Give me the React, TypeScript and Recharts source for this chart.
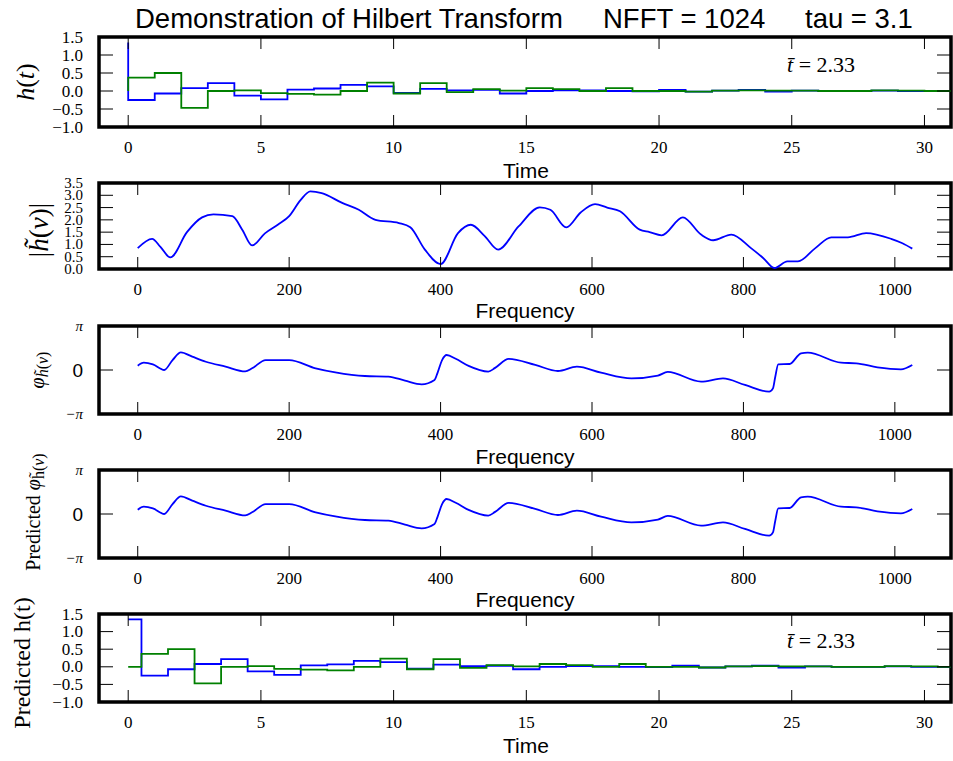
import { LineChart, Line, XAxis, YAxis, ReferenceArea } from 'recharts';

// time-domain impulse response (blue = real part, green = imaginary part)
const T = [0, 1, 2, 3, 4, 5, 6, 7, 8, 9, 10, 11, 12, 13, 14, 15, 16, 17, 18, 19, 20, 21, 22, 23, 24, 25, 26, 27, 28, 29, 30, 31];
const H_BLUE = [1.35, -0.25, -0.07, 0.08, 0.22, -0.13, -0.23, 0.04, 0.07, 0.17, 0.13, -0.05, 0.06, 0.02, 0.03, -0.07, 0.0, 0.02, 0.02, 0.0, -0.01, 0.03, -0.02, 0.01, 0.03, -0.02, 0.01, 0.0, 0.0, 0.01, 0.0, 0.0];
const H_GREEN = [0.0, 0.37, 0.5, -0.47, 0.0, 0.02, -0.06, -0.08, -0.1, 0.0, 0.23, -0.07, 0.22, -0.03, 0.05, 0.01, 0.08, 0.05, 0.0, 0.08, 0.0, 0.0, -0.02, 0.01, 0.02, 0.01, 0.01, 0.0, 0.0, 0.02, 0.01, 0.0];

// |h~(nu)|
const NU_MAG = [0, 19, 30, 43, 65, 85, 100, 125, 138, 151, 168, 185, 200, 215, 228, 243, 270, 292, 314, 345, 360, 379, 400, 423, 440, 458, 476, 503, 531, 545, 566, 585, 604, 620, 637, 663, 676, 692, 720, 744, 760, 784, 810, 826, 841, 858, 872, 895, 916, 938, 962, 995, 1010, 1023];
const MAG = [0.85, 1.23, 0.9, 0.47, 1.5, 2.1, 2.22, 2.15, 1.6, 0.96, 1.45, 1.8, 2.15, 2.8, 3.16, 3.09, 2.69, 2.41, 2.0, 1.87, 1.7, 0.8, 0.2, 1.46, 1.8, 1.35, 0.79, 1.73, 2.51, 2.41, 1.69, 2.3, 2.64, 2.5, 2.35, 1.6, 1.5, 1.37, 2.1, 1.4, 1.17, 1.4, 0.85, 0.45, 0.04, 0.31, 0.31, 0.85, 1.29, 1.29, 1.46, 1.23, 1.05, 0.83];

// phase of h~(nu)
const NU_PHASE = [0, 8, 20, 35, 46, 57, 72, 90, 116, 142, 151, 169, 200, 235, 261, 300, 331, 353, 375, 392, 396, 402, 408, 420, 437, 463, 472, 490, 525, 555, 580, 612, 652, 687, 700, 744, 773, 802, 834, 839, 842, 846, 861, 876, 885, 929, 949, 977, 1008, 1023];
const PHASE = [0.31, 0.52, 0.4, 0.0, 0.71, 1.26, 0.95, 0.59, 0.24, -0.1, 0.12, 0.71, 0.71, 0.12, -0.17, -0.43, -0.47, -0.76, -1.02, -0.71, -0.2, 0.71, 1.07, 0.8, 0.29, -0.12, 0.15, 0.79, 0.36, -0.07, 0.24, -0.19, -0.6, -0.4, -0.14, -0.83, -0.6, -1.07, -1.55, -1.31, -0.5, 0.4, 0.43, 1.19, 1.24, 0.52, 0.48, 0.19, 0.05, 0.36];

const TIME_TICKS = [0, 5, 10, 15, 20, 25, 30];
const FREQ_TICKS = [0, 200, 400, 600, 800, 1000];
const H_TICKS = [-1, -0.5, 0, 0.5, 1, 1.5];
const MAG_TICKS = [0, 0.5, 1, 1.5, 2, 2.5, 3, 3.5];
const PHASE_TICKS = [-Math.PI, 0, Math.PI];

const timeData = T.map((t, i) => ({ x: t, b: H_BLUE[i], g: H_GREEN[i] }));
const magData = NU_MAG.map((n, i) => ({ x: n, b: MAG[i] }));
const phaseData = NU_PHASE.map((n, i) => ({ x: n, b: PHASE[i] }));

const SERIF = '"Liberation Serif", "Times New Roman", serif';
const SANS = '"Liberation Sans", Arial, sans-serif';
const BLUE = '#0000ff';
const GREEN = '#008000';

const W = 953;
const LEFT = 99;
const RIGHT_M = 2;
const MT = 10;
const XH = 50;

type PanelProps = {
  top: number;
  plotH: number;
  data: Record<string, number>[];
  xDomain: [number, number];
  xTicks: number[];
  yDomain: [number, number];
  yTicks: number[];
  yLabel: (v: number) => string;
  yFont?: number;
  phase?: boolean;
  curve: 'stepBefore' | 'step' | 'monotone';
  green?: boolean;
};

function Panel({ top, plotH, data, xDomain, xTicks, yDomain, yTicks, yLabel, yFont = 17, phase, curve, green }: PanelProps) {
  const H = MT + plotH + XH;
  const plotTop = MT;
  const plotBottom = MT + plotH;
  const plotRight = W - RIGHT_M;

  const XTick = (p: any) => (
    <g>
      <line x1={p.x} x2={p.x} y1={plotBottom} y2={plotBottom - 12} stroke="#000" strokeWidth={1} />
      <line x1={p.x} x2={p.x} y1={plotTop} y2={plotTop + 12} stroke="#000" strokeWidth={1} />
      <text x={p.x} y={plotBottom + 26} textAnchor="middle" fontFamily={SERIF} fontSize={17} fill="#000">
        {String(p.payload.value)}
      </text>
    </g>
  );

  const YTick = (p: any) => {
    const v = p.payload.value as number;
    const isZeroPhase = phase && v === 0;
    return (
      <g>
        <line x1={LEFT} x2={LEFT + 14} y1={p.y} y2={p.y} stroke="#000" strokeWidth={1} />
        <line x1={plotRight} x2={plotRight - 14} y1={p.y} y2={p.y} stroke="#000" strokeWidth={1} />
        <text
          x={83}
          y={p.y}
          textAnchor="end"
          dominantBaseline="central"
          fontFamily={isZeroPhase ? SANS : SERIF}
          fontStyle={phase && !isZeroPhase ? 'italic' : 'normal'}
          fontSize={isZeroPhase ? 19 : phase ? 15 : yFont}
          fill="#000"
        >
          {yLabel(v)}
        </text>
      </g>
    );
  };

  return (
    <div style={{ position: 'absolute', left: 0, top: top - MT, width: W, height: H }}>
      <LineChart width={W} height={H} data={data} margin={{ top: MT, right: RIGHT_M, left: 0, bottom: 0 }}>
        <XAxis
          dataKey="x"
          type="number"
          domain={xDomain}
          ticks={xTicks}
          interval={0}
          allowDataOverflow
          height={XH}
          axisLine={false}
          tickLine={false}
          tick={XTick}
        />
        <YAxis
          type="number"
          domain={yDomain}
          ticks={yTicks}
          interval={0}
          allowDataOverflow
          width={LEFT}
          axisLine={false}
          tickLine={false}
          tick={YTick}
        />
        <Line dataKey="b" type={curve} stroke={BLUE} strokeWidth={1.8} dot={false} activeDot={false} isAnimationActive={false} />
        {green && (
          <Line dataKey="g" type={curve} stroke={GREEN} strokeWidth={1.8} dot={false} activeDot={false} isAnimationActive={false} />
        )}
        <ReferenceArea
          x1={xDomain[0]}
          x2={xDomain[1]}
          y1={yDomain[0]}
          y2={yDomain[1]}
          fill="none"
          fillOpacity={0}
          stroke="#000"
          strokeWidth={3.5}
          ifOverflow="visible"
        />
      </LineChart>
    </div>
  );
}

const hFmt = (v: number) => v.toFixed(1).replace('-', '\u2212');
const phaseFmt = (v: number) => (v === 0 ? '0' : v > 0 ? '\u03c0' : '\u2212\u03c0');

const TIME_DOMAIN: [number, number] = [-1.1, 31];
const FREQ_DOMAIN: [number, number] = [-51.15, 1074.15];
const PH_DOMAIN: [number, number] = [-Math.PI, Math.PI];

export default function App() {
  return (
    <div style={{ position: 'absolute', left: 0, top: 0, width: W, height: 761, background: '#fff' }}>
      <Panel top={37} plotH={90} data={timeData} xDomain={TIME_DOMAIN} xTicks={TIME_TICKS} yDomain={[-1, 1.5]} yTicks={H_TICKS} yLabel={hFmt} curve="stepBefore" green />
      <Panel top={183} plotH={86} data={magData} xDomain={FREQ_DOMAIN} xTicks={FREQ_TICKS} yDomain={[0, 3.5]} yTicks={MAG_TICKS} yLabel={hFmt} yFont={15} curve="monotone" />
      <Panel top={326} plotH={88} data={phaseData} xDomain={FREQ_DOMAIN} xTicks={FREQ_TICKS} yDomain={PH_DOMAIN} yTicks={PHASE_TICKS} yLabel={phaseFmt} phase curve="monotone" />
      <Panel top={470} plotH={88} data={phaseData} xDomain={FREQ_DOMAIN} xTicks={FREQ_TICKS} yDomain={PH_DOMAIN} yTicks={PHASE_TICKS} yLabel={phaseFmt} phase curve="monotone" />
      <Panel top={614} plotH={88} data={timeData} xDomain={TIME_DOMAIN} xTicks={TIME_TICKS} yDomain={[-1, 1.5]} yTicks={H_TICKS} yLabel={hFmt} curve="step" green />

      <svg width={W} height={761} style={{ position: 'absolute', left: 0, top: 0, pointerEvents: 'none' }}>
        <g fontFamily={SANS} fontSize={27.5} fill="#000">
          <text x={135} y={28}>Demonstration of Hilbert Transform</text>
          <text x={603} y={28}>NFFT = 1024</text>
          <text x={805} y={28}>tau = 3.1</text>
        </g>
        <g fontFamily={SANS} fontSize={21} fill="#000" textAnchor="middle">
          <text x={526} y={178}>Time</text>
          <text x={525} y={318}>Frequency</text>
          <text x={525} y={464}>Frequency</text>
          <text x={525} y={607}>Frequency</text>
          <text x={526} y={753}>Time</text>
        </g>
        <g fontFamily={SERIF} fontSize={22} fill="#000">
          <text x={787} y={72}>
            <tspan fontStyle="italic">t&#772;</tspan> = 2.33
          </text>
          <text x={787} y={648}>
            <tspan fontStyle="italic">t&#772;</tspan> = 2.33
          </text>
        </g>
        <g fontFamily={SERIF} fill="#000" textAnchor="middle" dominantBaseline="central">
          <text x={25} y={82} fontSize={26} transform="rotate(-90 25 82)">
            <tspan fontStyle="italic">h</tspan>(<tspan fontStyle="italic">t</tspan>)
          </text>
          <text x={39} y={230} fontSize={27} transform="rotate(-90 39 230)">
            |<tspan fontStyle="italic">h&#771;</tspan>(<tspan fontStyle="italic">&#957;</tspan>)|
          </text>
          <text x={37} y={370} fontSize={20} transform="rotate(-90 37 370)">
            <tspan fontStyle="italic">&#966;</tspan>
            <tspan fontSize={16} dy={5}>
              <tspan fontStyle="italic">h&#771;</tspan>(<tspan fontStyle="italic">&#957;</tspan>)
            </tspan>
          </text>
          <text x={33} y={512} fontSize={20} transform="rotate(-90 33 512)">
            Predicted <tspan fontStyle="italic">&#966;</tspan>
            <tspan fontSize={16} dy={5}>h&#771;(<tspan fontStyle="italic">&#957;</tspan>)</tspan>
          </text>
          <text x={22} y={663} fontSize={24} transform="rotate(-90 22 663)">
            Predicted h(t)
          </text>
        </g>
      </svg>
    </div>
  );
}
